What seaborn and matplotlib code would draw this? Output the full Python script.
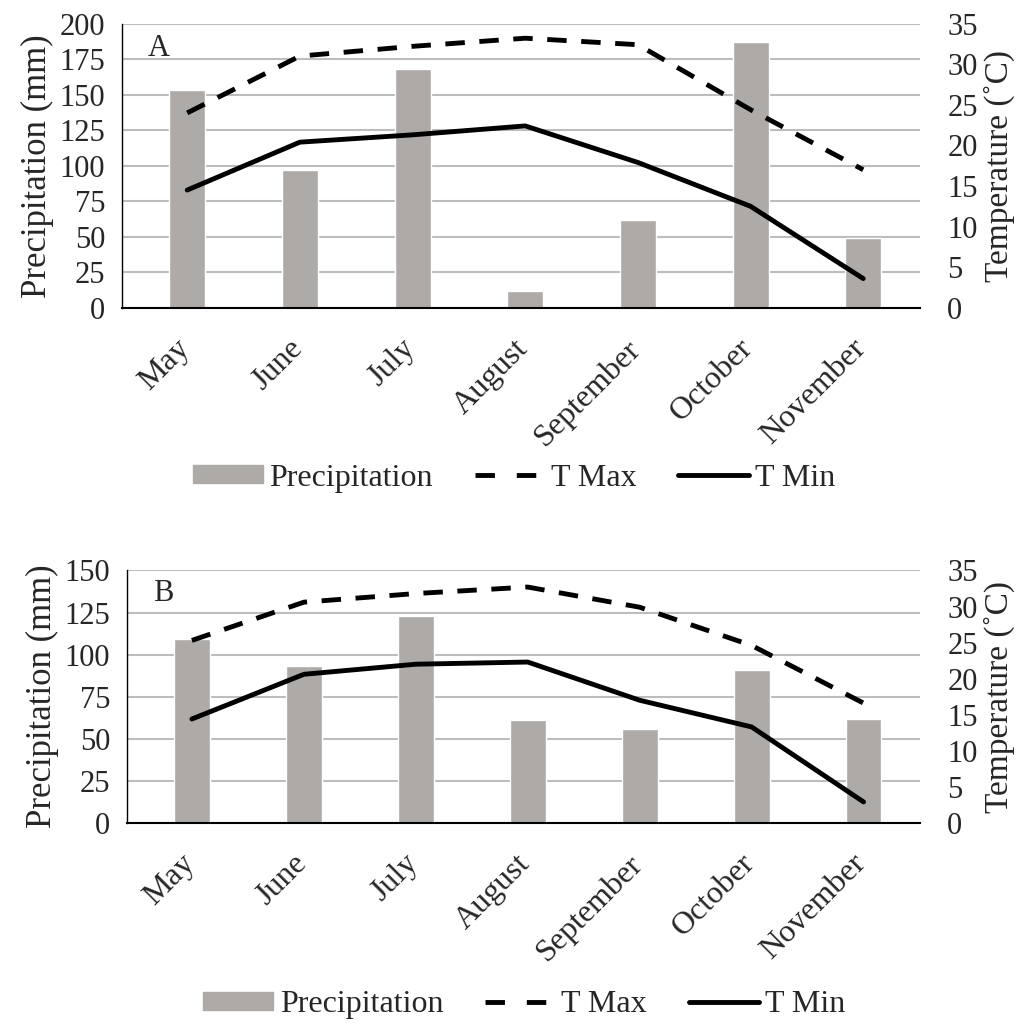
import matplotlib
matplotlib.use("Agg")
import matplotlib.pyplot as plt
import matplotlib.transforms as mtransforms
import seaborn as sns
import numpy as np
import pandas as pd
from matplotlib.patches import Patch
from matplotlib.lines import Line2D

months = ["May", "June", "July", "August", "September", "October", "November"]

# Panel A
precip_a = [153, 97, 168, 12, 62, 187, 49]
tmax_a = [24.0, 31.0, 32.2, 33.2, 32.4, 24.4, 17.0]
tmin_a = [14.5, 20.4, 21.3, 22.4, 17.9, 12.5, 3.6]

# Panel B
precip_b = [109, 93, 123, 61, 56, 91, 62]
tmax_b = [25.3, 30.6, 31.8, 32.7, 29.9, 24.6, 16.6]
tmin_b = [14.4, 20.6, 22.0, 22.3, 17.0, 13.3, 2.9]

sns.set_style("white")
plt.rcParams["font.family"] = ["Liberation Serif", "DejaVu Serif"]

bar_color = "#adaaa8"
grid_color = "#bdbdbd"
dash = (0, (4, 3))

fig = plt.figure(figsize=(10.24, 10.26), dpi=100)
shift = mtransforms.ScaledTranslation(-0.12, -0.15, fig.dpi_scale_trans)


def panel(rect, letter, precip, tmax, tmin, pmax, legend_x, legend_y):
    ax = fig.add_axes(rect)
    df = pd.DataFrame({"month": months, "precip": precip})
    sns.barplot(data=df, x="month", y="precip", color=bar_color, width=0.32,
                saturation=1, ax=ax, zorder=2)
    ax.set_ylim(0, pmax)
    ax.set_yticks(np.arange(0, pmax + 1, 25))
    ax.yaxis.grid(True, color=grid_color, lw=1.5, zorder=0)
    ax.set_axisbelow(True)
    ax.set_xlim(-0.58, 6.5)
    ax.set_xlabel("")
    ax.set_ylabel("Precipitation (mm)", fontsize=25, labelpad=4)
    ax.tick_params(axis="y", labelsize=22, length=0, pad=12)
    ax.tick_params(axis="x", labelsize=23, length=0, pad=8)
    ax.set_xticks(range(len(months)))
    ax.set_xticklabels(months, rotation=45, ha="right", rotation_mode="anchor")
    for lbl in ax.get_xticklabels():
        lbl.set_transform(lbl.get_transform() + shift)
    for s in ["top", "right"]:
        ax.spines[s].set_visible(False)
    ax.spines["left"].set_color("black")
    ax.spines["left"].set_linewidth(1)
    ax.spines["bottom"].set_color("black")
    ax.spines["bottom"].set_linewidth(1.5)
    ax.text(0.033, 0.965, letter, transform=ax.transAxes, fontsize=22,
            va="top", ha="left")

    ax2 = ax.twinx()
    x = np.arange(len(months))
    sns.lineplot(x=x, y=tmax, ax=ax2, color="black", lw=3.5, linestyle=dash)
    sns.lineplot(x=x, y=tmin, ax=ax2, color="black", lw=3.5)
    ax2.set_ylim(0, 35)
    ax2.set_yticks(np.arange(0, 36, 5))
    ax2.set_ylabel("Temperature (˚C)", fontsize=24, labelpad=4)
    ax2.tick_params(axis="y", labelsize=22, length=0, pad=20)
    for s in ax2.spines.values():
        s.set_visible(False)
    ax2.set_xlim(-0.58, 6.5)

    handles = [
        Patch(color=bar_color, label="Precipitation"),
        Line2D([], [], color="black", lw=3.5, linestyle=(0, (4, 4.5)),
               label="T Max"),
        Line2D([], [], color="black", lw=3.5, label="T Min"),
    ]
    fig.legend(handles=handles, loc="center", bbox_to_anchor=(legend_x, legend_y),
               ncol=3, frameon=False, fontsize=23, handlelength=2.2,
               handleheight=0.5, handletextpad=0.2, columnspacing=1.3)


panel([0.119, 0.700, 0.779, 0.277], "A", precip_a, tmax_a, tmin_a, 200,
      0.502, 0.534)
panel([0.124, 0.198, 0.774, 0.246], "B", precip_b, tmax_b, tmin_b, 150,
      0.512, 0.021)

fig.savefig("out.png", dpi=100)
